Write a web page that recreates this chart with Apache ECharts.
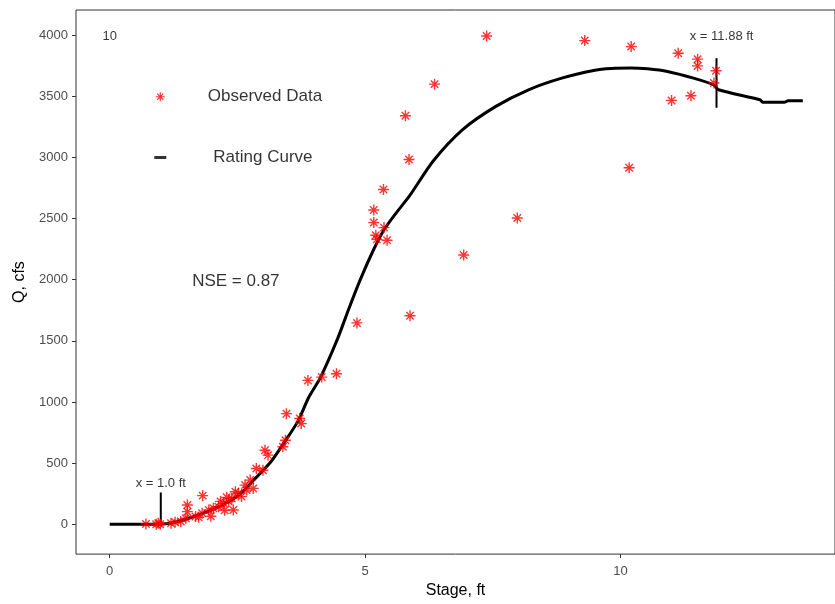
<!DOCTYPE html>
<html>
<head>
<meta charset="utf-8">
<script src="https://cdn.jsdelivr.net/npm/echarts@6/dist/echarts.min.js"></script>
<style>
  html, body { margin: 0; padding: 0; background: #ffffff; }
  #chart { width: 835px; height: 604px; }
</style>
</head>
<body>
<div id="chart"></div>
<script>
// Observed gauge readings: stage (ft) and discharge (cfs)
const obsStage = [
  0.71, 0.91, 0.95, 0.99, 1.20, 1.28, 1.39, 1.49, 1.52, 1.52,
  1.68, 1.82, 1.81, 1.94, 2.03, 2.13, 2.23, 2.33, 2.39, 2.42,
  2.52, 2.58, 2.46, 2.65, 2.68, 2.81, 2.75, 2.87, 3.00, 3.04,
  3.10, 3.39, 3.44, 3.46, 3.72, 3.75, 2.17, 2.29, 1.98, 1.74,
  2.25, 3.88, 4.15, 4.44, 4.84, 5.88, 6.93, 5.17, 5.17, 5.37,
  5.21, 5.23, 5.43, 5.36, 5.86, 5.79, 6.36, 7.38, 7.98, 9.30,
  10.21, 10.17, 11.13, 11.51, 11.51, 11.87, 11.83, 11.38, 11.00
];
const obsFlow = [
  2, 0, 8, 0, 8, 16, 22, 49, 157, 103,
  63, 234, 90, 117, 130, 144, 171, 185, 212, 117,
  253, 226, 266, 320, 279, 293, 361, 456, 442, 605,
  565, 633, 687, 904, 864, 823, 187, 220, 65, 57,
  114, 1176, 1203, 1230, 1646, 1705, 2201, 2569, 2466, 2425,
  2362, 2330, 2322, 2737, 2982, 3340, 3598, 3992, 2503, 3954,
  3905, 2914, 3851, 3802, 3747, 3707, 3607, 3503, 3465
];

// Fitted rating curve
const curveStage = [
  0, 0.9, 1.2, 1.55, 2.07, 2.52, 2.85, 3.16, 3.43, 3.68,
  3.90, 4.13, 4.46, 4.68, 4.91, 5.17, 5.36, 5.60, 5.88, 6.33,
  6.91, 7.56, 8.20, 8.85, 9.50, 9.82, 10.20, 10.53, 10.92, 11.43,
  11.82, 11.92, 12.73, 12.79, 13.21, 13.28, 13.57
];
const curveFlow = [
  0, 0, 10, 49, 130, 236, 375, 513, 676, 839,
  1040, 1203, 1515, 1760, 2004, 2248, 2400, 2540, 2690, 2968,
  3226, 3416, 3552, 3647, 3712, 3726, 3730, 3723, 3702, 3647,
  3593, 3552, 3470, 3449, 3449, 3462, 3462
];

// Vertical markers at the reported stages
const markerStage = [1.0, 11.88];
const markerLow = [0, 3405];
const markerHigh = [260, 3810];
const markerText = ['x = 1.0 ft', 'x = 11.88 ft'];
const markerTextStage = [1.0, 11.98];
const markerTextFlow = [334, 3984];

// Axis ticks
const xTicks = [0, 5, 10];
const yTicks = [0, 500, 1000, 1500, 2000, 2500, 3000, 3500, 4000];

// Panel annotations
const panelTag = '10';
const legendObsText = 'Observed Data';
const legendCurveText = 'Rating Curve';
const nseText = 'NSE = 0.87';

const FONT = '"Liberation Sans", Arial, sans-serif';
const ASTERISK = 'path://M5 0L5 10M0 5L10 5M1.6 1.6L8.4 8.4M8.4 1.6L1.6 8.4';

const chart = echarts.init(document.getElementById('chart'), null, { renderer: 'canvas' });

const textPoint = (x, y, txt, size, color) => ({
  value: [x, y],
  label: {
    show: true, position: 'inside', formatter: txt,
    fontSize: size, color: color, fontFamily: FONT
  }
});

const markerSeries = markerStage.map((s, i) => ({
  type: 'line',
  data: [[s, markerLow[i]], [s, markerHigh[i]]],
  showSymbol: false,
  silent: true,
  lineStyle: { color: '#000000', width: 2 },
  z: 3
}));

const plain = v => String(v);

chart.setOption({
  animation: false,
  backgroundColor: '#ffffff',
  grid: {
    left: 76, right: -8, top: 10, bottom: 48,
    show: true, borderColor: '#333333', borderWidth: 1, backgroundColor: '#ffffff'
  },
  xAxis: {
    type: 'value', min: -0.66, max: 14.2,
    name: 'Stage, ft', nameLocation: 'middle', nameGap: 28,
    nameTextStyle: { fontSize: 16, color: '#000000', fontFamily: FONT },
    axisLine: { show: false, onZero: false },
    axisTick: { show: true, length: 4, lineStyle: { color: '#333333' }, customValues: xTicks },
    axisLabel: { customValues: xTicks, formatter: plain, fontSize: 13, color: '#4d4d4d', fontFamily: FONT, margin: 11 },
    splitLine: { show: false }
  },
  yAxis: {
    type: 'value', min: -244, max: 4204,
    name: 'Q, cfs', nameLocation: 'middle', nameGap: 48, nameRotate: 90,
    nameTextStyle: { fontSize: 16, color: '#000000', fontFamily: FONT },
    axisLine: { show: false, onZero: false },
    axisTick: { show: true, length: 4, lineStyle: { color: '#333333' }, customValues: yTicks },
    axisLabel: { customValues: yTicks, formatter: plain, fontSize: 13, color: '#4d4d4d', fontFamily: FONT, margin: 8 },
    splitLine: { show: false }
  },
  series: [
    {
      name: 'Rating Curve',
      type: 'line',
      data: curveStage.map((s, i) => [s, curveFlow[i]]),
      showSymbol: false,
      smooth: 0.25,
      lineStyle: { color: '#000000', width: 3 },
      z: 2
    },
    ...markerSeries,
    {
      name: 'Observed Data',
      type: 'scatter',
      data: obsStage.map((s, i) => [s, obsFlow[i]]),
      symbol: ASTERISK,
      symbolSize: 11,
      itemStyle: { color: 'rgba(0,0,0,0)', borderColor: '#ff0000', borderWidth: 1.4 },
      z: 4
    },
    {
      // legend key glyphs drawn inside the panel
      type: 'scatter',
      silent: true,
      z: 5,
      data: [
        { value: [0.99, 3495], symbol: ASTERISK, symbolSize: 9,
          itemStyle: { color: 'rgba(0,0,0,0)', borderColor: '#ff0000', borderWidth: 1.2 } },
        { value: [0.99, 2998], symbol: 'rect', symbolSize: [12, 3],
          itemStyle: { color: '#000000' } }
      ]
    },
    {
      type: 'scatter',
      silent: true,
      symbolSize: 0,
      z: 6,
      data: [
        textPoint(0.0, 3992, panelTag, 13, '#000000'),
        textPoint(3.04, 3495, legendObsText, 17, '#000000'),
        textPoint(3.00, 2998, legendCurveText, 17, '#000000'),
        textPoint(2.47, 1988, nseText, 17, '#000000'),
        ...markerText.map((t, i) => textPoint(markerTextStage[i], markerTextFlow[i], t, 13, '#000000'))
      ]
    }
  ]
});
</script>
</body>
</html>
